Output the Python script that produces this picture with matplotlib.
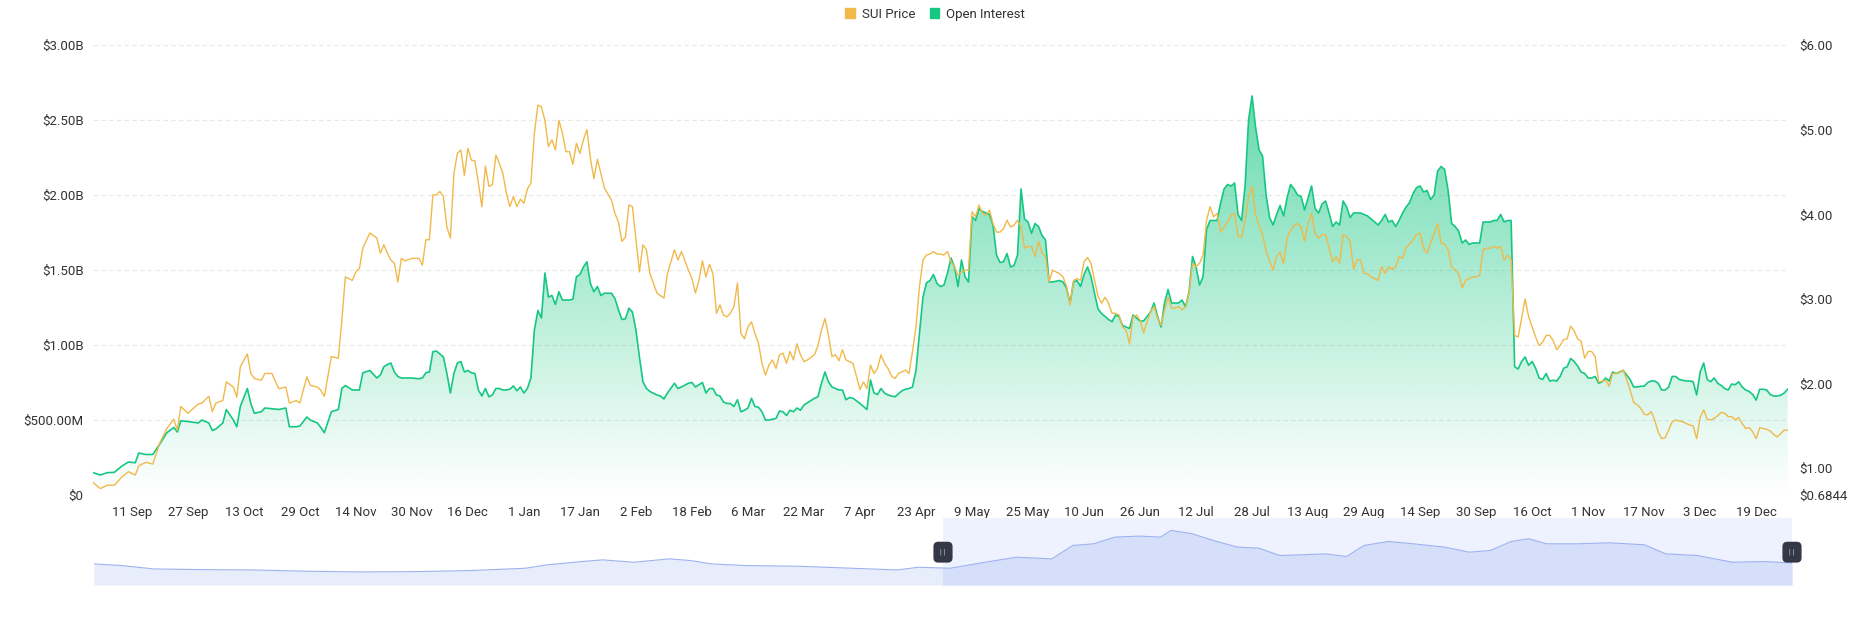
import matplotlib
matplotlib.use("Agg")
import matplotlib.pyplot as plt
import matplotlib.dates as mdates
from matplotlib.patches import Patch, Rectangle
import numpy as np
import pandas as pd

plt.rcParams['font.family'] = ['Roboto', 'DejaVu Sans']

GREEN = '#16c784'
YELLOW = '#f0b94a'
TEXT = '#333333'

# daily readings: open interest in billions USD, SUI price in USD
dates = [
    # 2024
    '2024-08-31', '2024-09-02', '2024-09-04', '2024-09-06', '2024-09-08', '2024-09-10', '2024-09-12',
    '2024-09-13', '2024-09-15', '2024-09-17', '2024-09-19', '2024-09-21', '2024-09-23', '2024-09-24',
    '2024-09-25', '2024-09-27', '2024-09-30',
    '2024-10-01', '2024-10-03', '2024-10-04', '2024-10-05', '2024-10-07', '2024-10-08', '2024-10-10',
    '2024-10-11', '2024-10-12', '2024-10-14', '2024-10-15', '2024-10-16', '2024-10-18', '2024-10-19',
    '2024-10-21', '2024-10-23', '2024-10-25', '2024-10-26', '2024-10-28', '2024-10-29', '2024-10-31',
    '2024-11-01', '2024-11-03', '2024-11-04', '2024-11-05', '2024-11-07', '2024-11-09', '2024-11-10',
    '2024-11-11', '2024-11-13', '2024-11-14', '2024-11-15', '2024-11-16', '2024-11-18', '2024-11-20',
    '2024-11-21', '2024-11-22', '2024-11-23', '2024-11-24', '2024-11-25', '2024-11-26', '2024-11-27',
    '2024-11-28', '2024-11-30',
    '2024-12-02', '2024-12-03', '2024-12-04', '2024-12-05', '2024-12-06', '2024-12-07', '2024-12-08',
    '2024-12-09', '2024-12-10', '2024-12-11', '2024-12-12', '2024-12-13', '2024-12-14', '2024-12-15',
    '2024-12-16', '2024-12-17', '2024-12-18', '2024-12-19', '2024-12-20', '2024-12-21', '2024-12-22',
    '2024-12-23', '2024-12-24', '2024-12-25', '2024-12-26', '2024-12-27', '2024-12-28', '2024-12-29',
    '2024-12-30', '2024-12-31',
    # 2025
    '2025-01-01', '2025-01-02', '2025-01-03', '2025-01-04', '2025-01-05', '2025-01-06', '2025-01-07',
    '2025-01-08', '2025-01-09', '2025-01-10', '2025-01-11', '2025-01-12', '2025-01-13', '2025-01-14',
    '2025-01-15', '2025-01-16', '2025-01-17', '2025-01-18', '2025-01-19', '2025-01-20', '2025-01-21',
    '2025-01-22', '2025-01-23', '2025-01-24', '2025-01-26', '2025-01-27', '2025-01-28', '2025-01-29',
    '2025-01-30', '2025-01-31',
    '2025-02-01', '2025-02-02', '2025-02-03', '2025-02-04', '2025-02-05', '2025-02-06', '2025-02-08',
    '2025-02-09', '2025-02-10', '2025-02-11', '2025-02-13', '2025-02-14', '2025-02-15', '2025-02-17',
    '2025-02-18', '2025-02-19', '2025-02-20', '2025-02-21', '2025-02-22', '2025-02-23', '2025-02-24',
    '2025-02-25', '2025-02-26', '2025-02-27', '2025-02-28',
    '2025-03-01', '2025-03-02', '2025-03-03', '2025-03-04', '2025-03-05', '2025-03-06', '2025-03-07',
    '2025-03-08', '2025-03-09', '2025-03-10', '2025-03-11', '2025-03-12', '2025-03-13', '2025-03-14',
    '2025-03-15', '2025-03-16', '2025-03-17', '2025-03-18', '2025-03-19', '2025-03-20', '2025-03-21',
    '2025-03-22', '2025-03-23', '2025-03-25', '2025-03-26', '2025-03-27', '2025-03-28', '2025-03-29',
    '2025-03-30', '2025-03-31',
    '2025-04-01', '2025-04-02', '2025-04-03', '2025-04-04', '2025-04-05', '2025-04-07', '2025-04-08',
    '2025-04-09', '2025-04-10', '2025-04-11', '2025-04-12', '2025-04-13', '2025-04-14', '2025-04-15',
    '2025-04-16', '2025-04-17', '2025-04-18', '2025-04-19', '2025-04-20', '2025-04-21', '2025-04-22',
    '2025-04-23', '2025-04-24', '2025-04-25', '2025-04-26', '2025-04-27', '2025-04-28', '2025-04-29',
    '2025-04-30',
] + [f'2025-05-{d:02d}' for d in range(1, 32)] + ['2025-06-01'] + \
    [f'2025-06-{d:02d}' for d in range(3, 31)] + [f'2025-07-{d:02d}' for d in range(1, 32)] + \
    [f'2025-08-{d:02d}' for d in range(1, 32)] + [f'2025-09-{d:02d}' for d in range(1, 31)] + \
    [f'2025-10-{d:02d}' for d in range(1, 32)] + [f'2025-11-{d:02d}' for d in range(1, 31)] + \
    [f'2025-12-{d:02d}' for d in range(1, 29)]

open_interest = [
    0.149, 0.133, 0.149, 0.151, 0.19, 0.22, 0.215, 0.28, 0.27, 0.27, 0.34, 0.415, 0.45, 0.42, 0.495, 0.49, 0.48,
    0.50, 0.48, 0.43, 0.44, 0.48, 0.57, 0.50, 0.455, 0.59, 0.71, 0.61, 0.545, 0.555, 0.58, 0.575, 0.57, 0.58,
    0.455, 0.455, 0.46, 0.52,
    0.50, 0.48, 0.45, 0.415, 0.555, 0.57, 0.71, 0.73, 0.70, 0.70, 0.70, 0.815, 0.83, 0.78, 0.80, 0.855, 0.87,
    0.88, 0.82, 0.79, 0.78, 0.78, 0.78,
    0.775, 0.78, 0.815, 0.82, 0.955, 0.96, 0.94, 0.92, 0.81, 0.68, 0.81, 0.88, 0.89, 0.82, 0.83, 0.815, 0.81,
    0.70, 0.66, 0.71, 0.655, 0.667, 0.71, 0.71, 0.70, 0.70, 0.705, 0.727, 0.695, 0.72,
    0.68, 0.71, 0.78, 1.10, 1.23, 1.18, 1.48, 1.32, 1.33, 1.27, 1.355, 1.30, 1.30, 1.30, 1.305, 1.455, 1.47,
    1.52, 1.555, 1.41, 1.355, 1.39, 1.33, 1.345, 1.345, 1.31, 1.235, 1.17, 1.175, 1.245,
    1.22, 1.10, 0.92, 0.755, 0.71, 0.69, 0.667, 0.66, 0.64, 0.68, 0.745, 0.71, 0.72, 0.745, 0.75, 0.72, 0.735,
    0.75, 0.68, 0.71, 0.71, 0.667, 0.66, 0.62, 0.61,
    0.61, 0.59, 0.635, 0.555, 0.565, 0.58, 0.645, 0.59, 0.585, 0.555, 0.50, 0.50, 0.505, 0.51, 0.56, 0.555,
    0.53, 0.565, 0.555, 0.58, 0.565, 0.60, 0.615, 0.645, 0.655, 0.745, 0.82, 0.755, 0.72, 0.71,
    0.70, 0.70, 0.635, 0.65, 0.645, 0.61, 0.59, 0.57, 0.767, 0.68, 0.67, 0.71, 0.68, 0.667, 0.66, 0.655, 0.675,
    0.695, 0.705, 0.71, 0.72, 0.83, 1.08, 1.32, 1.415, 1.43, 1.47, 1.41, 1.39,
    1.40, 1.48, 1.58, 1.52, 1.39, 1.567, 1.455, 1.42, 1.855, 1.83, 1.91, 1.89, 1.88, 1.87, 1.80, 1.60, 1.55,
    1.555, 1.61, 1.52, 1.53, 1.60, 2.04, 1.84, 1.82, 1.745, 1.81, 1.79, 1.73, 1.70, 1.42,
    1.42, 1.43, 1.42, 1.38, 1.28, 1.42, 1.43, 1.39, 1.47, 1.52, 1.455, 1.345, 1.24, 1.21, 1.19, 1.17, 1.155,
    1.20, 1.19, 1.13, 1.12, 1.11, 1.20, 1.18, 1.16, 1.16, 1.19, 1.22, 1.28,
    1.19, 1.12, 1.28, 1.37, 1.28, 1.28, 1.28, 1.30, 1.255, 1.355, 1.59, 1.52, 1.40, 1.455, 1.77, 1.83, 1.83,
    1.83, 1.945, 2.04, 2.07, 2.06, 2.08, 1.87, 1.83, 2.06, 2.50, 2.66, 2.45, 2.30, 2.26,
    2.00, 1.85, 1.80, 1.87, 1.93, 1.86, 1.98, 2.07, 2.04, 2.00, 1.99, 1.90, 1.98, 2.06, 1.91, 1.88, 1.94,
    1.96, 1.88, 1.79, 1.82, 1.80, 1.96, 1.92, 1.85, 1.88, 1.88, 1.88, 1.87, 1.86, 1.84,
    1.82, 1.80, 1.83, 1.87, 1.82, 1.83, 1.79, 1.83, 1.88, 1.92, 1.95, 2.01, 2.05, 2.06, 2.02, 2.03, 1.97,
    2.00, 2.16, 2.19, 2.17, 2.03, 1.81, 1.79, 1.76, 1.68, 1.70, 1.67, 1.68, 1.68,
    1.68, 1.82, 1.82, 1.82, 1.83, 1.83, 1.87, 1.82, 1.83, 1.83, 0.855, 0.84, 0.89, 0.92, 0.865, 0.89, 0.845,
    0.78, 0.77, 0.81, 0.76, 0.765, 0.76, 0.79, 0.845, 0.855, 0.91, 0.89, 0.86, 0.82, 0.81,
    0.78, 0.78, 0.79, 0.745, 0.755, 0.78, 0.76, 0.82, 0.81, 0.82, 0.83, 0.80, 0.77, 0.72, 0.72, 0.725, 0.725,
    0.75, 0.76, 0.76, 0.745, 0.70, 0.70, 0.72, 0.79, 0.79, 0.77, 0.765, 0.76, 0.76,
    0.755, 0.667, 0.82, 0.88, 0.77, 0.755, 0.78, 0.745, 0.73, 0.71, 0.70, 0.74, 0.735, 0.755, 0.72, 0.70,
    0.69, 0.67, 0.633, 0.705, 0.705, 0.70, 0.67, 0.66, 0.66, 0.665, 0.68, 0.705,
]

sui_price = [
    0.83, 0.76, 0.80, 0.80, 0.89, 0.96, 0.92, 1.03, 1.07, 1.05, 1.30, 1.47, 1.58, 1.45, 1.73, 1.65, 1.76,
    1.77, 1.85, 1.67, 1.77, 1.80, 2.02, 1.96, 1.84, 2.20, 2.35, 2.12, 2.06, 2.04, 2.12, 2.12, 1.94, 1.96,
    1.77, 1.80, 1.77, 2.08,
    1.98, 1.96, 1.92, 1.85, 2.32, 2.30, 2.75, 3.26, 3.22, 3.32, 3.36, 3.60, 3.78, 3.72, 3.54, 3.64, 3.54,
    3.46, 3.42, 3.20, 3.48, 3.45, 3.48,
    3.48, 3.40, 3.70, 3.70, 4.23, 4.23, 4.27, 4.21, 3.85, 3.72, 4.48, 4.72, 4.76, 4.46, 4.78, 4.64, 4.63,
    4.37, 4.09, 4.57, 4.33, 4.35, 4.70, 4.60, 4.48, 4.25, 4.09, 4.21, 4.09, 4.18,
    4.13, 4.30, 4.37, 4.96, 5.29, 5.27, 5.11, 4.80, 4.88, 4.76, 5.11, 4.96, 4.74, 4.74, 4.59, 4.84, 4.72,
    4.88, 5.00, 4.66, 4.42, 4.65, 4.48, 4.31, 4.17, 4.01, 3.91, 3.68, 3.73, 4.11,
    4.09, 3.70, 3.32, 3.64, 3.58, 3.30, 3.07, 3.04, 3.01, 3.30, 3.58, 3.46, 3.56, 3.34, 3.24, 3.07, 3.22,
    3.45, 3.26, 3.41, 3.30, 2.83, 2.93, 2.81, 2.79,
    2.83, 2.91, 3.19, 2.59, 2.53, 2.67, 2.73, 2.59, 2.48, 2.24, 2.10, 2.22, 2.28, 2.18, 2.34, 2.36, 2.24,
    2.38, 2.28, 2.47, 2.34, 2.26, 2.28, 2.34, 2.45, 2.63, 2.77, 2.57, 2.32, 2.34,
    2.27, 2.40, 2.28, 2.26, 2.24, 1.93, 2.02, 1.94, 2.22, 2.12, 2.18, 2.34, 2.24, 2.18, 2.09, 2.06, 2.12,
    2.14, 2.16, 2.12, 2.38, 2.67, 3.15, 3.46, 3.52, 3.53, 3.56, 3.53, 3.53,
    3.52, 3.56, 3.44, 3.38, 3.28, 3.32, 3.34, 3.34, 4.03, 3.97, 4.11, 4.01, 3.99, 4.05, 3.89, 3.79, 3.79,
    3.83, 3.93, 3.85, 3.87, 3.93, 3.85, 3.60, 3.62, 3.62, 3.50, 3.68, 3.54, 3.50, 3.20,
    3.34, 3.30, 3.26, 3.15, 2.93, 3.22, 3.24, 3.22, 3.44, 3.49, 3.42, 3.22, 3.03, 2.95, 3.02, 2.95, 2.83,
    2.83, 2.81, 2.67, 2.63, 2.47, 2.79, 2.81, 2.75, 2.60, 2.73, 2.85, 2.91,
    2.77, 2.69, 2.87, 3.02, 2.89, 2.89, 2.91, 2.87, 2.91, 3.07, 3.42, 3.38, 3.42, 3.52, 3.93, 4.09, 3.97,
    4.01, 3.79, 3.85, 3.91, 3.99, 4.01, 3.74, 3.73, 3.93, 4.21, 4.33, 4.00, 3.86, 3.76,
    3.57, 3.45, 3.34, 3.50, 3.55, 3.42, 3.72, 3.81, 3.87, 3.89, 3.85, 3.68, 3.89, 4.01, 3.77, 3.72, 3.76,
    3.76, 3.60, 3.44, 3.50, 3.42, 3.76, 3.74, 3.68, 3.35, 3.46, 3.46, 3.30, 3.30, 3.26,
    3.24, 3.22, 3.38, 3.30, 3.38, 3.35, 3.38, 3.50, 3.48, 3.60, 3.65, 3.70, 3.76, 3.78, 3.60, 3.54, 3.66,
    3.77, 3.89, 3.66, 3.65, 3.58, 3.38, 3.34, 3.30, 3.13, 3.22, 3.24, 3.26, 3.26,
    3.28, 3.58, 3.60, 3.60, 3.62, 3.60, 3.62, 3.46, 3.52, 3.46, 2.57, 2.55, 2.77, 3.00, 2.79, 2.67, 2.55,
    2.45, 2.49, 2.57, 2.57, 2.51, 2.40, 2.45, 2.52, 2.53, 2.68, 2.62, 2.53, 2.50, 2.30,
    2.38, 2.38, 2.32, 2.02, 2.03, 2.04, 1.97, 2.12, 2.12, 2.13, 2.16, 2.05, 1.92, 1.78, 1.75, 1.71, 1.64,
    1.63, 1.67, 1.57, 1.43, 1.35, 1.36, 1.45, 1.55, 1.57, 1.56, 1.55, 1.53, 1.51,
    1.50, 1.35, 1.60, 1.69, 1.58, 1.57, 1.59, 1.62, 1.66, 1.65, 1.61, 1.61, 1.57, 1.60, 1.53, 1.47,
    1.48, 1.43, 1.35, 1.48, 1.47, 1.46, 1.44, 1.40, 1.37, 1.41, 1.45, 1.45,
]

# overview series in the zoom slider (relative level, 0-200)
mini_dates = [
    '2024-08-31', '2024-09-08', '2024-09-17', '2024-09-30', '2024-10-15', '2024-10-31', '2024-11-15',
    '2024-12-01', '2024-12-16', '2025-01-01', '2025-01-07', '2025-01-17', '2025-01-23', '2025-02-01',
    '2025-02-11', '2025-02-17', '2025-02-23', '2025-03-05', '2025-03-20', '2025-04-04', '2025-04-17',
    '2025-04-23', '2025-05-02', '2025-05-12', '2025-05-21', '2025-05-31', '2025-06-06', '2025-06-12',
    '2025-06-18', '2025-06-25', '2025-07-01', '2025-07-04', '2025-07-10', '2025-07-16', '2025-07-23',
    '2025-07-29', '2025-08-04', '2025-08-10', '2025-08-17', '2025-08-23', '2025-08-28', '2025-09-04',
    '2025-09-11', '2025-09-20', '2025-09-27', '2025-10-03', '2025-10-09', '2025-10-14', '2025-10-19',
    '2025-10-28', '2025-11-06', '2025-11-16', '2025-11-22', '2025-12-01', '2025-12-11', '2025-12-20',
    '2025-12-28',
]
mini_level = [
    63, 58, 48, 46, 45, 41, 39, 40, 43, 50, 60, 70, 75, 68, 78, 73, 63, 58, 56, 50, 45, 53, 50, 68, 83,
    78, 118, 123, 143, 146, 143, 163, 153, 133, 113, 110, 88, 90, 93, 85, 118, 130, 123, 113, 98, 103,
    130, 138, 123, 123, 126, 120, 93, 88, 68, 70, 66,
]
selection_start = '2025-04-30'

assert len(dates) == len(open_interest) == len(sui_price)

x = pd.to_datetime(dates)
oi = np.array(open_interest)
price = np.array(sui_price)
xn = mdates.date2num(x)

W, H = 1869, 618
fig = plt.figure(figsize=(W / 100, H / 100), dpi=100)
ax = fig.add_axes([93.3 / W, 1 - 495 / H, (1787.7 - 93.3) / W, 450 / H])

# gradient fill under the open interest line
poly = ax.fill_between(xn, oi, 0, facecolor='none', edgecolor='none')
grad = np.zeros((256, 1, 4))
grad[:, 0, :3] = matplotlib.colors.to_rgb(GREEN)
grad[:, 0, 3] = np.linspace(0.0, 0.65, 256)
im = ax.imshow(grad, extent=[xn[0], xn[-1], 0, oi.max()], origin='lower',
               aspect='auto', zorder=1, interpolation='bilinear')
im.set_clip_path(poly.get_paths()[0], transform=ax.transData)
ax.plot(xn, oi, color=GREEN, lw=1.2, zorder=3)

ax.set_xlim(xn[0], xn[-1])
ax.set_ylim(0, 3.0)
ax.set_yticks([0, 0.5, 1.0, 1.5, 2.0, 2.5, 3.0])
ax.set_yticklabels(['$0', '$500.00M', '$1.00B', '$1.50B', '$2.00B', '$2.50B', '$3.00B'])
ax.grid(axis='y', color='#e8e8e8', linestyle=(0, (4, 3)), lw=0.8)
ax.set_axisbelow(True)

ticks = pd.date_range('2024-09-11', '2025-12-19', freq='16D')
ax.set_xticks(mdates.date2num(ticks))
ax.set_xticklabels([f"{d.day} {d.strftime('%b')}" for d in ticks])
ax.tick_params(axis='x', length=0, pad=8, labelsize=9.5, colors=TEXT)
ax.tick_params(axis='y', length=0, pad=7, labelsize=9.5, colors=TEXT)

ax2 = ax.twinx()
ax2.plot(xn, price, color=YELLOW, lw=1.0, zorder=4)
ax2.set_ylim(0.6844, 6.0)
ax2.set_yticks([0.6844, 1, 2, 3, 4, 5, 6])
ax2.set_yticklabels(['$0.6844', '$1.00', '$2.00', '$3.00', '$4.00', '$5.00', '$6.00'])
ax2.tick_params(axis='y', length=0, pad=8, labelsize=9.5, colors=TEXT)
ax2.set_xlim(xn[0], xn[-1])

for a in (ax, ax2):
    for s in a.spines.values():
        s.set_visible(False)

# zoom slider
axs = fig.add_axes([94 / W, 1 - 585 / H, (1792 - 94) / W, 67 / H])
mx = mdates.date2num(pd.to_datetime(mini_dates))
my = np.array(mini_level)
sel = mdates.date2num(pd.Timestamp(selection_start))
axs.set_xlim(xn[0], xn[-1])
axs.set_ylim(0, 200)
axs.axvspan(sel, xn[-1], color='#eef2fe', lw=0, zorder=0)
axs.fill_between(mx, my, 0, color='#e7edfb', lw=0, zorder=1)
dark = axs.fill_between(mx, my, 0, color='#d5dffa', lw=0, zorder=2)
dark.set_clip_path(Rectangle((sel, 0), xn[-1] - sel, 200, transform=axs.transData))
axs.plot(mx, my, color='#9db2ef', lw=0.8, zorder=3)
for hx in (sel, xn[-1]):
    axs.text(hx, 0.49, '| |', transform=axs.get_xaxis_transform(), ha='center', va='center',
             fontsize=5, color='#d8dbe2', zorder=5, clip_on=False,
             bbox=dict(boxstyle='round,pad=1.0,rounding_size=0.7', fc='#343846', ec='none'))
axs.axis('off')

handles = [Patch(color=YELLOW), Patch(color=GREEN)]
fig.legend(handles, ['SUI Price', 'Open Interest'], loc='center', bbox_to_anchor=(935 / W, 1 - 14.3 / H),
           ncol=2, frameon=False, fontsize=9.5, handlelength=0.75, handleheight=0.75,
           handletextpad=0.5, columnspacing=1.1, labelcolor=TEXT)

fig.savefig('out.png', dpi=100)
